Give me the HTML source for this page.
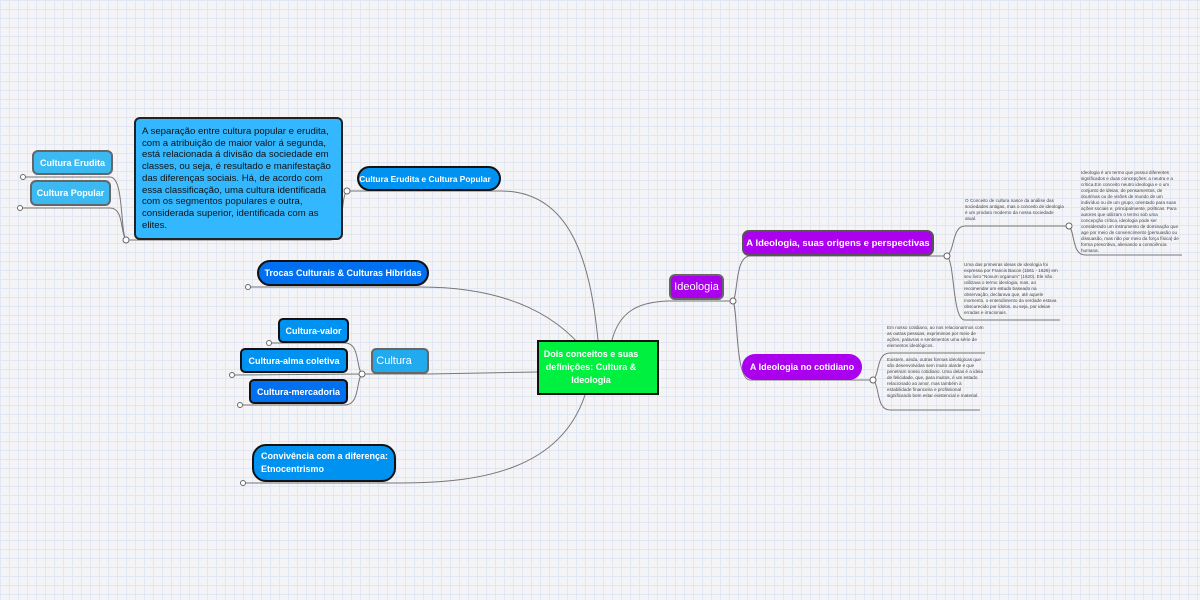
<!DOCTYPE html>
<html><head><meta charset="utf-8"><style>
body{margin:0;width:1200px;height:600px;overflow:hidden;font-family:"Liberation Sans",sans-serif;
background-color:#f4f3f6;background-image:linear-gradient(#e1e7f2 1px,transparent 1px),linear-gradient(90deg,#e1e7f2 1px,transparent 1px);background-size:9px 9px;position:relative}
.n{position:absolute;box-sizing:border-box;color:#fff;font-weight:bold;font-size:9px;display:flex;align-items:center;justify-content:center;text-align:center;white-space:nowrap}
.t{position:absolute;font-size:4.6px;line-height:6px;color:#444}
svg{position:absolute;left:0;top:0}
</style></head><body>
<svg width="1200" height="600" fill="none" stroke="#777" stroke-width="1">
<path d="M612 340 C620 310 640 302 668 301 L733 301"/>
<path d="M733 301 C738 295 735 256 750 256 L947 256"/>
<path d="M733 301 C738 310 735 380 750 380 L873 380"/>
<path d="M947 256 C955 250 952 226 965 226 L1069 226"/>
<path d="M947 256 C955 262 952 320 965 320 L1060 320"/>
<path d="M1069 226 C1075 232 1072 255 1085 255 L1182 255"/>
<path d="M873 380 C880 374 876 353 890 353 L985 353"/>
<path d="M873 380 C880 386 876 410 890 410 L980 410"/>
<path d="M598 340 C590 260 570 191 501 191 L347 191"/>
<path d="M347 191 C340 196 345 240 330 240 L126 240"/>
<path d="M126 240 C120 230 124 177 110 177 L23 177"/>
<path d="M126 240 C120 232 124 208 110 208 L20 208"/>
<path d="M580 345 C540 300 480 287 420 287 L248 287"/>
<path d="M537 372 L429 374 L362 374"/>
<path d="M362 374 C356 368 360 343 345 343 L269 343"/>
<path d="M362 374 L232 375"/>
<path d="M362 374 C356 380 360 405 345 405 L240 405"/>
<path d="M585 395 C560 470 480 483 400 483 L243 483"/>
<g fill="#fff" stroke="#666">
<circle cx="733" cy="301" r="3"/><circle cx="947" cy="256" r="3"/><circle cx="873" cy="380" r="3"/><circle cx="1069" cy="226" r="3"/>
<circle cx="347" cy="191" r="3"/><circle cx="126" cy="240" r="3"/><circle cx="362" cy="374" r="3"/>
<circle cx="23" cy="177" r="2.5"/><circle cx="20" cy="208" r="2.5"/><circle cx="248" cy="287" r="2.5"/><circle cx="269" cy="343" r="2.5"/><circle cx="232" cy="375" r="2.5"/><circle cx="240" cy="405" r="2.5"/><circle cx="243" cy="483" r="2.5"/>
</g>
</svg>
<div class="n" style="left:537px;top:340px;width:122px;height:55px;background:#00f040;border:2px solid #111;line-height:13px;padding-right:14px;white-space:normal">Dois conceitos e suas<br>definições: Cultura &amp;<br>Ideologia</div>
<div class="n" style="left:669px;top:274px;width:55px;height:26px;background:#aa00ee;border:2px solid #666;border-radius:6px;font-weight:normal;font-size:11px">Ideologia</div>
<div class="n" style="left:742px;top:230px;width:192px;height:26px;background:#aa00ee;border:2px solid #555;border-radius:7px;font-size:9.5px">A Ideologia, suas origens e perspectivas</div>
<div class="n" style="left:742px;top:354px;width:120px;height:26px;background:#aa00ee;border-radius:13px">A Ideologia no cotidiano</div>
<div class="n" style="left:357px;top:166px;width:144px;height:25px;background:#0092f0;border:2px solid #111;border-radius:13px;font-size:8.3px;padding-right:8px">Cultura Erudita e Cultura Popular</div>
<div class="n" style="left:134px;top:117px;width:209px;height:123px;background:#33b8ff;border:2px solid #222;border-radius:6px;color:#111;font-weight:normal;font-size:9.6px;line-height:11.7px;text-align:left;align-items:flex-start;justify-content:flex-start;padding:7px 6px;white-space:normal">A separação entre cultura popular e erudita, com a atribuição de maior valor á segunda, está relacionada á divisão da sociedade em classes, ou seja, é resultado e manifestação das diferenças sociais. Há, de acordo com essa classificação, uma cultura identificada com os segmentos populares e outra, considerada superior, identificada com as elites.</div>
<div class="n" style="left:32px;top:150px;width:81px;height:25px;background:#3bb9f0;border:2px solid #666;border-radius:6px">Cultura Erudita</div>
<div class="n" style="left:30px;top:180px;width:81px;height:26px;background:#3bb9f0;border:2px solid #666;border-radius:6px">Cultura Popular</div>
<div class="n" style="left:257px;top:260px;width:172px;height:26px;background:#0070f0;border:2px solid #111;border-radius:13px">Trocas Culturais &amp; Culturas Híbridas</div>
<div class="n" style="left:371px;top:348px;width:58px;height:26px;background:#22aaee;border:2px solid #666;border-radius:5px;font-weight:normal;font-size:11px;padding-right:12px">Cultura</div>
<div class="n" style="left:278px;top:318px;width:71px;height:25px;background:#0092f0;border:2px solid #111;border-radius:5px">Cultura-valor</div>
<div class="n" style="left:240px;top:348px;width:108px;height:25px;background:#0092f0;border:2px solid #111;border-radius:5px">Cultura-alma coletiva</div>
<div class="n" style="left:249px;top:379px;width:99px;height:25px;background:#0070f0;border:2px solid #111;border-radius:5px">Cultura-mercadoria</div>
<div class="n" style="left:252px;top:444px;width:144px;height:38px;background:#0092f0;border:2px solid #111;border-radius:14px;text-align:left;justify-content:flex-start;padding-left:7px;line-height:13px">Convivência com a diferença:<br>Etnocentrismo</div>
<div class="t" style="left:965px;top:198px;width:100px">O Conceito de cultura nasce da análise das sociedades antigas, mas o conceito de ideologia é um produto moderno da nossa sociedade atual.</div>
<div class="t" style="left:1081px;top:170px;width:100px">Ideologia é um termo que possui diferentes significados e duas concepções: a neutra e a crítica.Em conceito neutro ideologia e o um conjunto de ideias, de pensamentos, de doutrinas ou de visões de mundo de um indivíduo ou de um grupo, orientado para suas ações sociais e, principalmente, políticas. Para autores que utilizam o termo sob uma concepção crítica, ideologia pode ser considerado um instrumento de dominação que age por meio de convencimento (persuasão ou dissuasão, mas não por meio da força física) de forma prescritiva, alienando a consciência humana.</div>
<div class="t" style="left:964px;top:262px;width:96px">Uma das primeiras ideias de ideologia foi expressa por Francis Bacon (1561 - 1626) em seu livro "Novum organum" (1620). Ele não utilizava o termo ideologia, mas, ao recomendar um estudo baseado na observação, declarava que, até aquele momento, o entendimento da verdade estava obscurecido por ídolos, ou seja, por ideias erradas e irracionais.</div>
<div class="t" style="left:887px;top:325px;width:98px">Em nosso cotidiano, ao nos relacionarmos com as outras pessoas, exprimimos por meio de ações, palavras e sentimentos uma série de elementos ideológicos.</div>
<div class="t" style="left:887px;top:357px;width:96px">Existem, ainda, outras formas ideológicas que são desenvolvidas sem muito alarde e que penetram nosso cotidiano. Uma delas é a ideia de felicidade, que, para muitos, é um estado relacionado ao amor, mas também à estabilidade financeira e profissional significando bem estar existencial e material.</div>
</body></html>
